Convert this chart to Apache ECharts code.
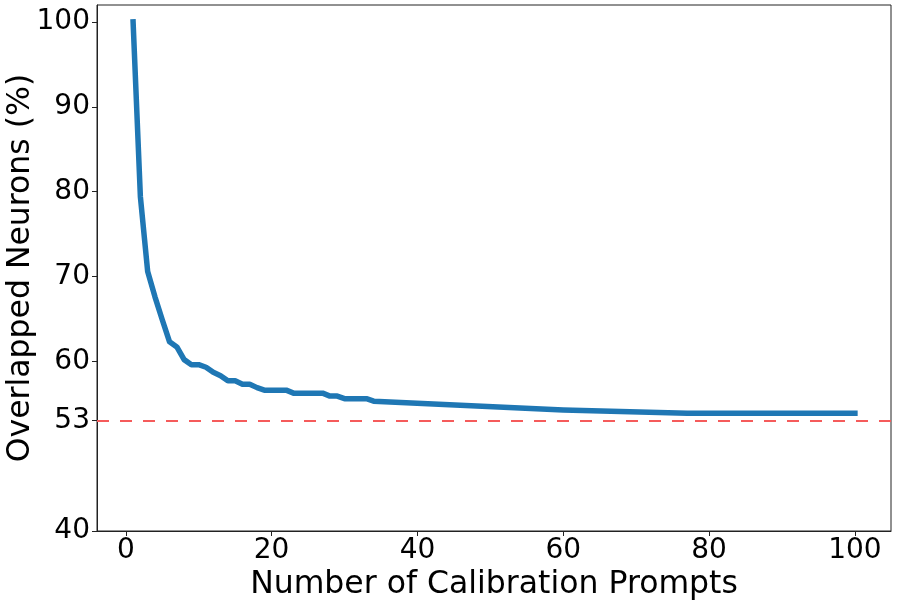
<!DOCTYPE html>
<html>
<head>
<meta charset="utf-8">
<script src="https://cdn.jsdelivr.net/npm/echarts@6/dist/echarts.min.js"></script>
<style>
html,body{margin:0;padding:0;background:#fff;}
#chart{width:897px;height:603px;}
</style>
</head>
<body>
<div id="chart"></div>
<script>
// Number of calibration prompts (x) and overlapped neurons in % (y)
var promptCounts = [1,2,3,4,5,6,7,8,9,10,11,12,13,14,15,16,17,18,19,20,21,22,23,24,25,26,27,28,29,30,31,32,33,34,60,77,100];
var overlapPct = [100,79.4,70.6,67.6,64.9,62.3,61.7,60.2,59.6,59.6,59.3,58.7,58.3,57.7,57.7,57.3,57.3,56.9,56.6,56.6,56.6,56.6,56.25,56.25,56.25,56.25,56.25,55.9,55.9,55.6,55.6,55.6,55.6,55.3,54.26,53.87,53.87];
var xTicks = [0,20,40,60,80,100];
var yTicks = [40,53,60,70,80,90,100];
var refLine = 53;

var seriesData = promptCounts.map(function(x,i){return [x, overlapPct[i]];});
var FONT = 'DejaVu Sans';
var chart = echarts.init(document.getElementById('chart'), null, {renderer:'canvas'});
chart.setOption({
  animation:false,
  backgroundColor:'#fff',
  grid:{left:97, right:6, top:5, bottom:72, show:true, borderColor:'#222', borderWidth:1, containLabel:false, outerBoundsMode:'none'},
  xAxis:{
    type:'value', min:-3.95, max:104.95,
    name:'Number of Calibration Prompts', nameLocation:'middle', nameGap:38, nameMoveOverlap:false,
    nameTextStyle:{fontFamily:FONT, fontSize:31.5, color:'#000'},
    axisLine:{show:true, onZero:false, lineStyle:{color:'#222', width:1}},
    axisTick:{show:true, inside:false, length:5, customValues:xTicks, lineStyle:{color:'#222'}},
    axisLabel:{customValues:xTicks, fontFamily:FONT, fontSize:28, color:'#000', margin:6},
    splitLine:{show:false}
  },
  yAxis:{
    type:'value', min:40, max:102,
    name:'Overlapped Neurons (%)', nameLocation:'middle', nameGap:60, nameMoveOverlap:false,
    nameTextStyle:{fontFamily:FONT, fontSize:31.5, color:'#000'},
    axisLine:{show:true, onZero:false, lineStyle:{color:'#222', width:1}},
    axisTick:{show:true, inside:false, length:5, customValues:yTicks, lineStyle:{color:'#222'}},
    axisLabel:{customValues:yTicks, fontFamily:FONT, fontSize:28, color:'#000', margin:7},
    splitLine:{show:false}
  },
  series:[{
    type:'line',
    data:seriesData,
    showSymbol:false,
    symbol:'none',
    lineStyle:{color:'#1f77b4', width:5.5, cap:'square', join:'round'},
    markLine:{
      silent:true,
      symbol:['none','none'],
      label:{show:false},
      lineStyle:{color:'#f55b5b', width:2, type:[12,11]},
      data:[{yAxis:refLine}]
    }
  }]
});
</script>
</body>
</html>
